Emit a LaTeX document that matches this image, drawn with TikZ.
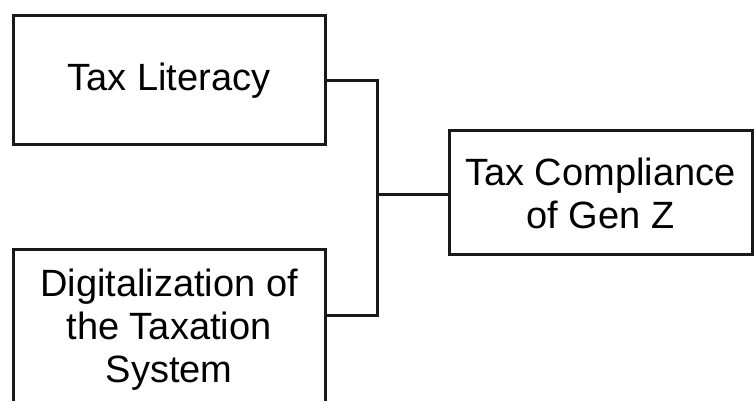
\documentclass[tikz,border=0pt]{standalone}
\usepackage{fontspec}
\setmainfont{Liberation Sans}
\begin{document}
\begin{tikzpicture}[x=1pt,y=1pt,
  boxstyle/.style={draw=black!90, line width=3pt, rectangle, inner sep=0pt, align=center,
    font=\fontsize{38}{43}\selectfont},
  conn/.style={draw=black!90, line width=3pt}]
\useasboundingbox (0,0) rectangle (754,401);
\clip (0,0) rectangle (754,401);
\fill[white] (0,0) rectangle (754,401);
\node[boxstyle, minimum width=312pt, minimum height=129pt] (tl) at (169,{401-80.5}) {Tax Literacy};
\node[boxstyle, minimum width=312pt, minimum height=160pt] (dig) at (169,{401-330}) {Digitalization of\\the Taxation\\System};
\node[boxstyle, minimum width=303pt, minimum height=124pt] (comp) at (600.5,{401-193}) {Tax Compliance\\of Gen Z};
\coordinate (jt) at (377,{401-81});
\coordinate (jb) at (377,{401-316});
\coordinate (jm) at (377,{401-195});
\draw[conn] (tl.east |- jt) -- (jt) -- (jb) -- (jb -| dig.east);
\draw[conn] (jm) -- (jm -| comp.west);
\end{tikzpicture}
\end{document}
